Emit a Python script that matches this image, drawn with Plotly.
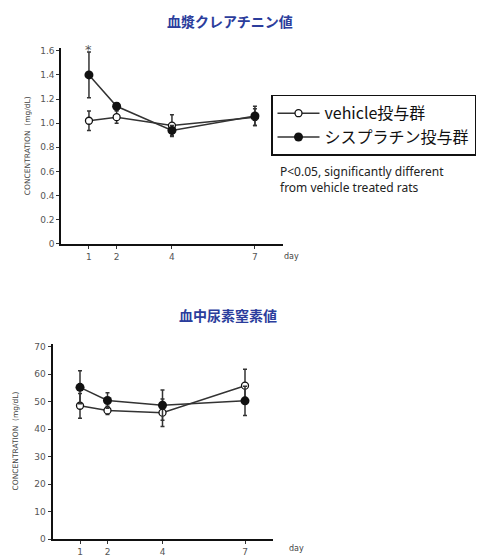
import plotly.graph_objects as go

days = [1, 2, 4, 7]
day_ticks = ["1", "2", "4", "7"]

# Plasma creatinine (mg/dL)
vehicle_cre = [1.02, 1.05, 0.98, 1.05]
vehicle_cre_sd = [0.08, 0.05, 0.09, 0.07]
cis_cre = [1.40, 1.14, 0.94, 1.06]
cis_cre_sd = [0.19, 0.03, 0.04, 0.08]
cre_ticks = [0, 0.2, 0.4, 0.6, 0.8, 1.0, 1.2, 1.4, 1.6]
cre_ticklabels = ["0", "0.2", "0.4", "0.6", "0.8", "1.0", "1.2", "1.4", "1.6"]

# Blood urea nitrogen (mg/dL)
vehicle_bun = [48.5, 46.8, 46.0, 55.8]
vehicle_bun_sd = [4.5, 1.5, 5.0, 6.0]
cis_bun = [55.2, 50.4, 48.7, 50.3]
cis_bun_sd = [6.0, 2.8, 5.5, 5.3]
bun_ticks = [0, 10, 20, 30, 40, 50, 60, 70]

W, H = 497, 559
LINE = "#333333"
TITLE_BLUE = "#2b3d9c"
JP = "Noto Sans CJK JP"

fig = go.Figure()

def add_pair(xa, ya, veh, veh_sd, cis, cis_sd, show):
    fig.add_trace(go.Scatter(
        x=days, y=veh, name="vehicle投与群", mode="lines+markers",
        xaxis=xa, yaxis=ya, showlegend=show, legendrank=1,
        line=dict(color=LINE, width=1.5),
        marker=dict(symbol="circle", size=7, color="white",
                    line=dict(color="#111111", width=1.3)),
        error_y=dict(type="data", array=veh_sd, visible=True,
                     color=LINE, thickness=1.5, width=2),
    ))
    fig.add_trace(go.Scatter(
        x=days, y=cis, name="シスプラチン投与群", mode="lines+markers",
        xaxis=xa, yaxis=ya, showlegend=show, legendrank=2,
        line=dict(color=LINE, width=1.5),
        marker=dict(symbol="circle", size=9, color="#111111"),
        error_y=dict(type="data", array=cis_sd, visible=True,
                     color=LINE, thickness=1.5, width=2),
    ))

add_pair("x", "y", vehicle_cre, vehicle_cre_sd, cis_cre, cis_cre_sd, True)
add_pair("x2", "y2", vehicle_bun, vehicle_bun_sd, cis_bun, cis_bun_sd, False)

tickfont = dict(family="DejaVu Sans", size=9, color="#555555")
xcommon = dict(range=[0, 8], tickvals=days, ticktext=day_ticks,
               showline=True, linecolor="#111111", linewidth=2,
               ticks="outside", ticklen=3, tickcolor="#333333",
               showgrid=False, zeroline=False, tickfont=tickfont, fixedrange=True)
ycommon = dict(showline=True, linecolor="#111111", linewidth=2,
               ticks="outside", ticklen=3, tickcolor="#333333",
               showgrid=False, zeroline=False, tickfont=tickfont, fixedrange=True)

fig.update_layout(
    width=W, height=H,
    margin=dict(l=0, r=0, t=0, b=0),
    paper_bgcolor="white", plot_bgcolor="white",
    xaxis=dict(domain=[61.3 / W, 282.6 / W], anchor="y", **xcommon),
    yaxis=dict(domain=[1 - 245 / H, 1 - 46.9 / H], anchor="x", range=[0, 1.62],
               tickvals=cre_ticks, ticktext=cre_ticklabels, **ycommon),
    xaxis2=dict(domain=[52.5 / W, 272.5 / W], anchor="y2", **xcommon),
    yaxis2=dict(domain=[1 - 544 / H, 1 - 346.2 / H], anchor="x2", range=[0, 71],
                tickvals=bun_ticks, **ycommon),
    legend=dict(x=271 / W, y=1 - 94 / H, xanchor="left", yanchor="top",
                bordercolor="#111111", borderwidth=1.5, bgcolor="white",
                font=dict(family=JP, size=16, color="#111111"),
                tracegroupgap=0, itemsizing="trace", itemwidth=42),
    showlegend=True,
)

ann = [
    dict(text="<b>血漿クレアチニン値</b>", x=230 / W, y=1 - 19 / H,
         font=dict(family=JP, size=14, color=TITLE_BLUE)),
    dict(text="<b>血中尿素窒素値</b>", x=228 / W, y=1 - 317 / H,
         font=dict(family=JP, size=14, color=TITLE_BLUE)),
    dict(text="CONCENTRATION  (mg/dL)", x=27 / W, y=1 - 146 / H, textangle=-90,
         font=dict(family="DejaVu Sans", size=7.5, color="#444444")),
    dict(text="CONCENTRATION  (mg/dL)", x=15 / W, y=1 - 445 / H, textangle=-90,
         font=dict(family="DejaVu Sans", size=7.5, color="#444444")),
    dict(text="day", x=291 / W, y=1 - 258 / H,
         font=dict(family="DejaVu Sans", size=8, color="#444444")),
    dict(text="day", x=296 / W, y=1 - 553 / H,
         font=dict(family="DejaVu Sans", size=8, color="#444444")),
    dict(text="P<0.05, significantly different<br>from vehicle treated rats",
         x=278 / W, y=1 - 180 / H, xanchor="left", align="left",
         font=dict(family="Noto Sans", size=12, color="#222222")),
]
for a in ann:
    a.setdefault("xanchor", "center")
    fig.add_annotation(xref="paper", yref="paper", showarrow=False, yanchor="middle", **a)

fig.add_annotation(xref="x", yref="y", x=1, y=1.61, text="*", showarrow=False,
                   font=dict(family="DejaVu Sans", size=13, color="#555555"),
                   yanchor="middle")

fig.write_html("out.html", config={"displayModeBar": False},
               post_script="document.body.style.margin='0px';document.body.style.overflow='hidden';")
